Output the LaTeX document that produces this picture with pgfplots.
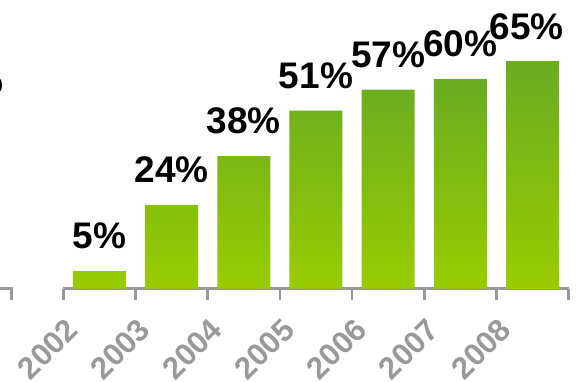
\documentclass[border=0pt]{standalone}
\usepackage{fontspec}
\setmainfont{Liberation Sans}
\usepackage{pgfplots}
\pgfplotsset{compat=1.18}
\definecolor{gTop}{RGB}{106,172,34}
\definecolor{gBot}{RGB}{153,204,0}
\definecolor{axgray}{RGB}{153,153,153}
\begin{document}
\begin{tikzpicture}
\begin{axis}[
  at={(0,0)}, anchor=south west,
  scale only axis, width=505.4pt, height=288.7pt,
  xmin=-0.5, xmax=6.5, ymin=0, ymax=82.7,
  axis x line*=bottom, axis y line=none,
  x axis line style={line width=2.7pt, draw=axgray},
  xtick={0,1,2,3,4,5,6},
  xticklabels={2002,2003,2004,2005,2006,2007,2008},
  major tick length=0pt,
  minor xtick={-0.5,0.5,1.5,2.5,3.5,4.5,5.5,6.5},
  minor tick length=11pt,
  tick align=outside,
  minor tick style={line width=2.7pt, draw=axgray},
  xticklabel style={font=\fontsize{31}{33}\selectfont\bfseries, text=axgray, inner sep=0pt,
    xshift=-35pt, yshift=-28pt, rotate=45, anchor=north east},
  clip=false,
  /pgf/number format/assume math mode=true,
  nodes near coords={\pgfmathprintnumber{\pgfplotspointmeta}\%},
  every node near coord/.append style={font=\fontsize{37}{39}\selectfont\bfseries, text=black,
    anchor=base, inner sep=0pt, yshift=22.5pt},
]
\addplot[ybar, bar width=53pt, bar shift=0pt, draw=none, top color=gTop, bottom color=gBot]
  coordinates {(0,5) (1,24) (2,38) (3,51) (4,57) (5,60)};
\addplot[ybar, bar width=53pt, bar shift=0pt, draw=none, top color=gTop, bottom color=gBot,
  every node near coord/.append style={xshift=-6pt}]
  coordinates {(6,65)};
\end{axis}
% fragment of neighbouring chart, cut by the left edge
\draw[axgray, line width=2.7pt] (-64pt,0) -- (-52pt,0);
\draw[axgray, line width=2.7pt] (-52pt,1.35pt) -- (-52pt,-11pt);
\node[font=\fontsize{37}{39}\selectfont\bfseries, anchor=base east, inner sep=0pt] at (-59.8pt,195.7pt) {\%};
\pgfresetboundingbox
\path[use as bounding box] (-63.3pt,-92.3pt) rectangle (512.7pt,288.7pt);
\end{tikzpicture}
\end{document}
